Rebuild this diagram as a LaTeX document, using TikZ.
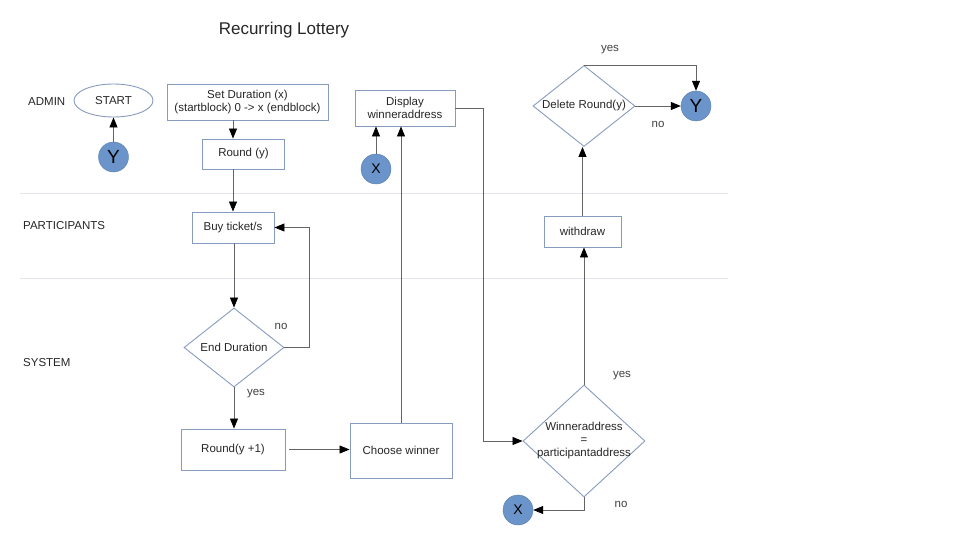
\documentclass[tikz,border=0pt]{standalone}
\usepackage{fontspec}
\setmainfont{Liberation Sans}
\usetikzlibrary{shapes.geometric,arrows.meta}
\definecolor{boxline}{RGB}{135,155,190}
\definecolor{wire}{RGB}{100,100,100}
\definecolor{disc}{RGB}{106,148,202}
\definecolor{lanegray}{RGB}{226,229,233}
\begin{document}
\begin{tikzpicture}[x=1pt,y=-1pt,
	box/.style={draw=boxline, line width=0.9pt, inner sep=0pt, align=center, text=black!85, font=\fontsize{11.5}{13}\selectfont},
	decision/.style={draw=boxline, line width=0.9pt, diamond, inner sep=0pt},
	dot/.style={draw=disc!85!black, fill=disc, circle, minimum size=30pt, inner sep=0pt},
	txt/.style={text=black!75, font=\fontsize{11.5}{13}\selectfont},
	lanetxt/.style={text=black!85, anchor=west, inner sep=0pt, font=\fontsize{11.5}{13}\selectfont},
	lane/.style={draw=lanegray, line width=0.8pt},
	arr/.style={draw=wire, line width=0.8pt, -{Triangle[length=10pt,width=8pt,color=black]}}]
	\useasboundingbox (0,0) rectangle (960,540);
	% lanes
	\draw[lane] (20,193) -- (728,193);
	\draw[lane] (20,278) -- (728,278);
	\node[txt, text=black!85, font=\fontsize{17}{18}\selectfont] (title) at (284,30) {Recurring Lottery};
	\node[lanetxt] (admin) at (28,102) {ADMIN};
	\node[lanetxt] (participants) at (23,226) {PARTICIPANTS};
	\node[lanetxt] (system) at (23,363) {SYSTEM};
	% admin
	\node[box, ellipse, minimum width=79pt, minimum height=33pt] (start) at (113.5,100.5) {START};
	\node[dot, font=\fontsize{19}{19}\selectfont] (yL) at (113.5,157) {Y};
	\node[box, minimum width=161pt, minimum height=36pt] (setdur) at (247.5,102) {Set Duration (x)\\(startblock) 0 -> x (endblock)};
	\node[box, minimum width=82pt, minimum height=30pt] (round) at (243.5,154) {Round (y)};
	\node[box, minimum width=100pt, minimum height=36pt] (display) at (405,108) {Display\\winneraddress};
	\node[dot, font=\fontsize{14}{14}\selectfont] (xT) at (376,169) {X};
	\node[decision, minimum width=102pt, minimum height=81pt, label={[txt, text=black!85]center:Delete Round(y)}] (del) at (584,106) {};
	\node[dot, font=\fontsize{19}{19}\selectfont] (yR) at (696,106) {Y};
	% participants
	\node[box, minimum width=82pt, minimum height=31pt] (buy) at (233,227.5) {Buy ticket/s};
	\node[box, minimum width=77pt, minimum height=31pt] (withdraw) at (582.5,231.5) {withdraw};
	% system
	\node[decision, minimum width=100pt, minimum height=79pt, label={[txt, text=black!85]center:End Duration}] (enddur) at (234,347.5) {};
	\node[box, minimum width=104pt, minimum height=41pt] (round1) at (233,449.5) {Round(y +1)};
	\node[box, minimum width=102pt, minimum height=55pt] (choose) at (401,450.5) {Choose winner};
	\node[decision, minimum width=122pt, minimum height=112pt, label={[txt, text=black!85, align=center]center:Winneraddress\\=\\participantaddress}] (win) at (584,441) {};
	\node[dot, font=\fontsize{14}{14}\selectfont] (xB) at (518,510) {X};
	\coordinate (loop) at (309,227.5);
	\coordinate (bend) at (483,108);
	% connectors
	\draw[arr] (yL.north) -- (start.south);
	\draw[arr] (setdur.south -| buy) -- (round.north -| buy);
	\draw[arr] (round.south -| buy) -- (buy.north);
	\draw[arr] (buy.south -| enddur) -- (enddur.north);
	\draw[arr] (enddur.east) -| (loop) -- (buy.east);
	\draw[arr] (enddur.south) -- (enddur.south |- round1.north);
	\draw[arr] ([xshift=4pt]round1.east) -- (choose.west |- round1.east);
	\draw[arr] (choose.north) -- (choose.north |- display.south);
	\draw[arr] (xT.north) -- (xT.north |- display.south);
	\draw[arr] (display.east) -- (bend) |- (win.west);
	\draw[arr] (win.north) -- (win.north |- withdraw.south);
	\draw[arr] (withdraw.north) -- (withdraw.north |- del.south);
	\draw[arr] (del.east) -- (yR.west);
	\draw[arr] (del.north) -| (yR.north);
	\draw[arr] (win.south) |- (xB.east);
	% branch labels
	\node[txt] (noDur) at (281,326) {no};
	\node[txt] (yesDur) at (256,394) {yes};
	\node[txt] (yesWin) at (622,376) {yes};
	\node[txt] (noWin) at (621,504) {no};
	\node[txt] (yesDel) at (610,50) {yes};
	\node[txt] (noDel) at (658,124) {no};
\end{tikzpicture}
\end{document}
